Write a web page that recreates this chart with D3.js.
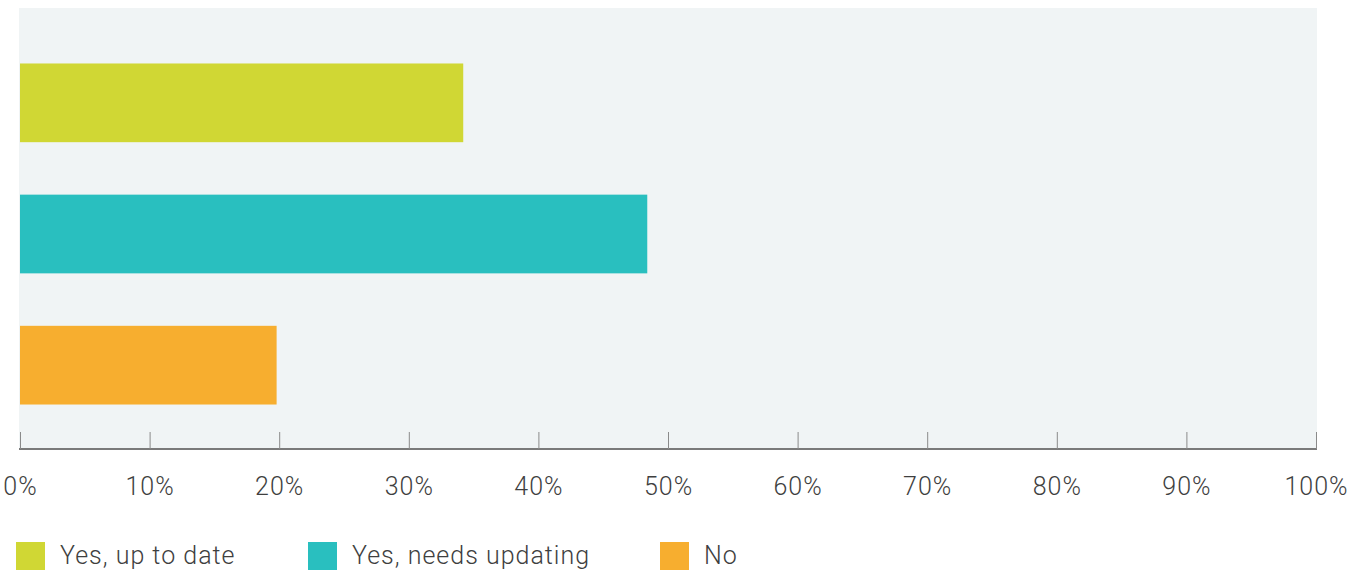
<!DOCTYPE html>
<html>
<head>
<meta charset="utf-8">
<script src="https://cdn.jsdelivr.net/npm/d3@7"></script>
<style>
  html, body { margin: 0; padding: 0; background: #ffffff; }
  svg { display: block; }
  text { font-family: Roboto, "Liberation Sans", sans-serif; font-weight: 300; fill: #3f3f3f; }
</style>
</head>
<body>
<svg id="chart" width="1356" height="570"></svg>
<script>
// Survey answers and their shares (percent of respondents)
const categories = ["Yes, up to date", "Yes, needs updating", "No"];
const values = [34.2, 48.4, 19.8];
const colors = ["#d0d734", "#29bfbf", "#f7ae2f"];
const tickValues = [0, 10, 20, 30, 40, 50, 60, 70, 80, 90, 100];
const tickLabels = ["0%", "10%", "20%", "30%", "40%", "50%", "60%", "70%", "80%", "90%", "100%"];

const svg = d3.select("#chart");

const plot = { left: 20, right: 1316, top: 8, bottom: 449 };

const x = d3.scaleLinear().domain([0, 100]).range([plot.left, plot.right]);
const y = d3.scaleBand()
  .domain(categories)
  .range([32, 436])
  .paddingInner(0.4)
  .paddingOuter(0.24);

// plot background
svg.append("rect")
  .attr("x", plot.left - 1)
  .attr("y", plot.top)
  .attr("width", plot.right - plot.left + 2)
  .attr("height", plot.bottom - plot.top)
  .attr("fill", "#f0f4f5");

// bars
svg.append("g")
  .selectAll("rect")
  .data(categories)
  .join("rect")
  .attr("x", x(0))
  .attr("y", d => y(d))
  .attr("width", (d, i) => x(values[i]) - x(0))
  .attr("height", y.bandwidth())
  .attr("fill", (d, i) => colors[i]);

// x axis with upward ticks
const axis = d3.axisBottom(x)
  .tickValues(tickValues)
  .tickFormat((d, i) => tickLabels[i])
  .tickSize(-17)
  .tickSizeOuter(0)
  .tickPadding(28);

const gAxis = svg.append("g")
  .attr("transform", `translate(0,${plot.bottom})`)
  .call(axis);

gAxis.select(".domain")
  .attr("stroke", "#7a7a7a")
  .attr("stroke-width", 2)
  .attr("d", `M${plot.left - 1},0H${plot.right + 1}`);
gAxis.selectAll(".tick line").attr("stroke", "#8a8a8a").attr("stroke-width", 1);
gAxis.selectAll(".tick text")
  .attr("fill", "#3f3f3f")
  .style("font-size", "25px")
  .style("letter-spacing", "1px")
  .attr("dy", "0.71em");

// legend
const legendX = [16, 308, 660];
const legend = svg.append("g")
  .selectAll("g")
  .data(categories)
  .join("g")
  .attr("transform", (d, i) => `translate(${legendX[i]},542)`);

legend.append("rect")
  .attr("width", 29)
  .attr("height", 29)
  .attr("fill", (d, i) => colors[i]);

legend.append("text")
  .attr("x", 44)
  .attr("y", 22)
  .style("font-size", "25px")
  .style("letter-spacing", "1px")
  .text(d => d);
</script>
</body>
</html>
